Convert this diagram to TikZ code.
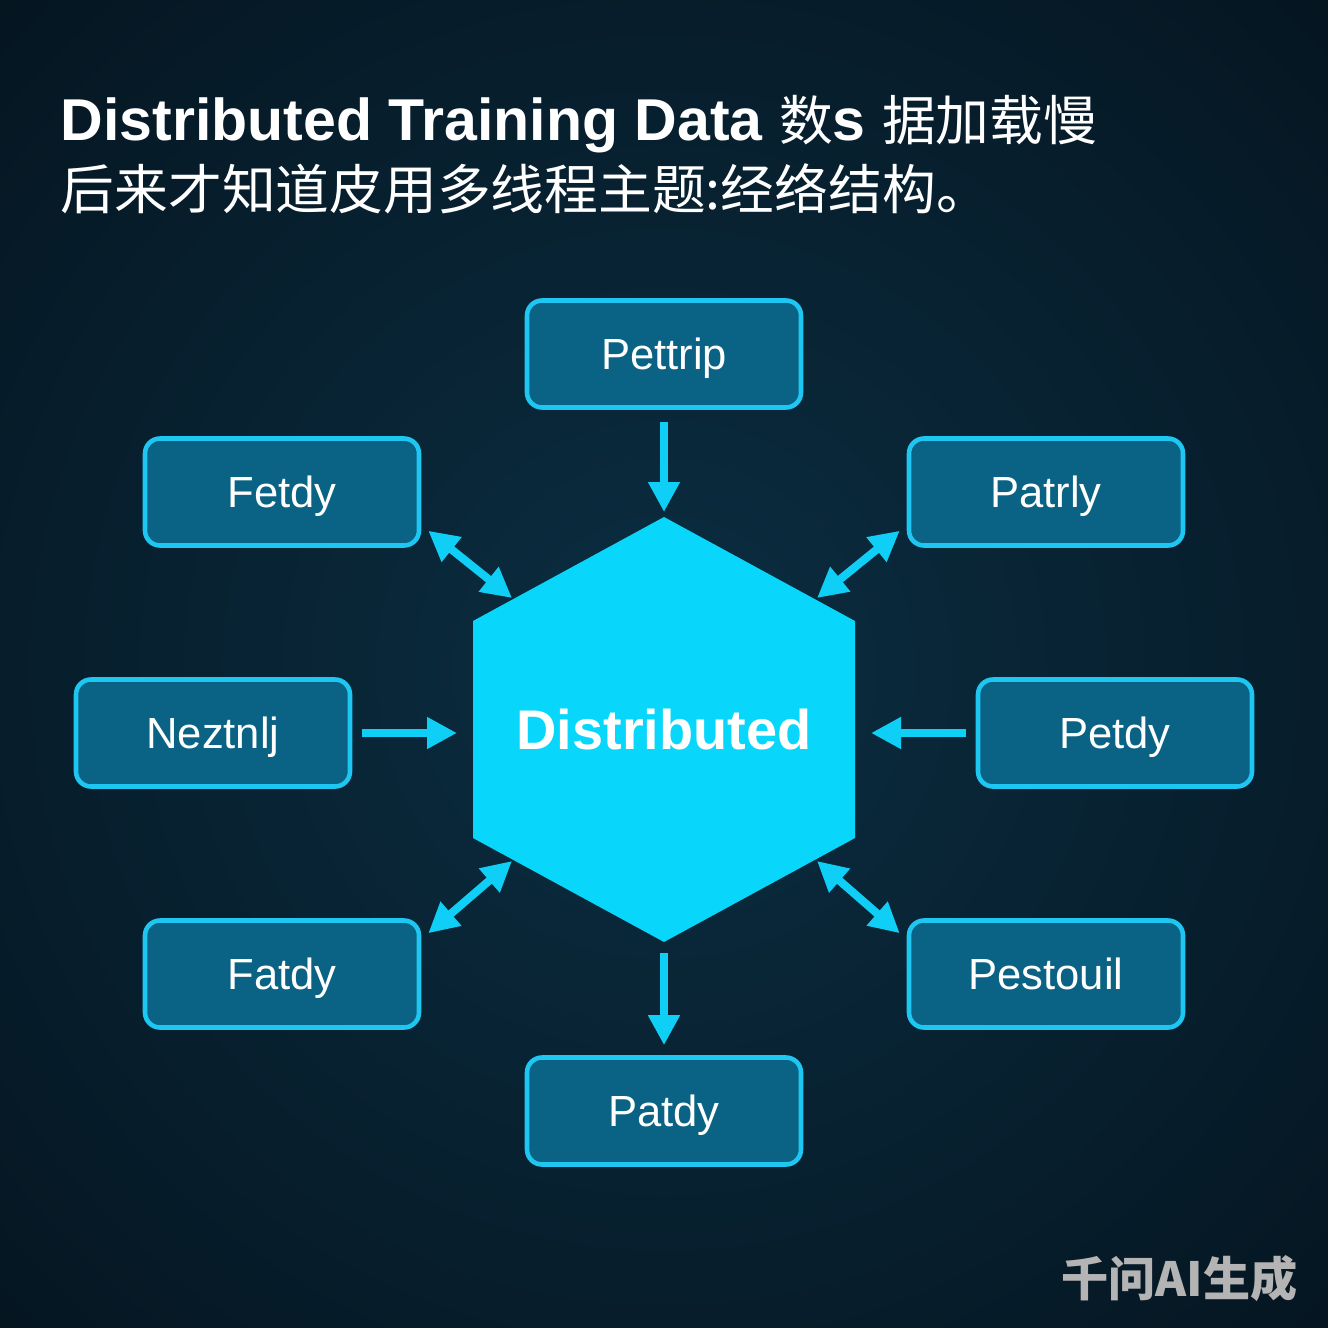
\documentclass[tikz,border=0pt]{standalone}
\usepackage{fontspec}
\setmainfont{Liberation Sans}
\newfontfamily\cjk{Noto Sans CJK SC}
\usetikzlibrary{arrows.meta,calc}
\definecolor{bgout}{HTML}{01070D}
\definecolor{bgin}{HTML}{0B2E42}
\definecolor{boxfill}{HTML}{0A6384}
\definecolor{boxline}{HTML}{1EC6F2}
\definecolor{hexfill}{HTML}{08D6FB}
\definecolor{flowcol}{HTML}{10CFF6}
\definecolor{markgray}{HTML}{B4B4B4}
\tikzset{
    boxN/.style={
        draw=boxline, line width=1.3pt, fill=boxfill,
        rounded corners=0.15cm, minimum width=2.74cm, minimum height=1.07cm,
        text height=0.31cm, text depth=0pt,
        text=white, font=\fontsize{12.4}{14}\selectfont
    },
    flowA/.style={
        draw=flowcol, line width=2.3pt,
        -{Triangle[length=0.3cm,width=0.3cm]}
    },
    flowB/.style={
        draw=flowcol, line width=2.3pt,
        {Triangle[length=0.3cm,width=0.3cm]}-{Triangle[length=0.3cm,width=0.3cm]}
    }
}
\newcommand{\cjkT}{\cjk\mdseries\fontsize{15.3}{18}\selectfont}

\begin{document}
\begin{tikzpicture}
    \def \W {13.28}
    \useasboundingbox (0,0) rectangle (\W,-\W);
    % background with glow
    \fill[bgout] (0,0) rectangle (\W,-\W);
    \begin{scope}
    \clip (0,0) rectangle (\W,-\W);
    \fill[inner color=bgin, outer color=bgout] (6.64,-6.7) circle (15);
    \end{scope}
    % title
    \node[anchor=base west, inner sep=0, text=white, font=\fontsize{16.8}{20}\selectfont\bfseries] (title1) at (0.60,-1.41)
        {Distributed Training Data {\cjkT 数}s {\cjkT 据加载慢}};
    \node[anchor=base west, inner sep=0, text=white, font=\cjkT] (title2) at (0.60,-2.10)
        {后来才知道皮用多线程主题:经络结构。};
    % hexagon
    \coordinate (h1) at (6.64,-5.17);
    \coordinate (h2) at (8.55,-6.21);
    \coordinate (h3) at (8.55,-8.38);
    \coordinate (h4) at (6.64,-9.42);
    \coordinate (h5) at (4.73,-8.38);
    \coordinate (h6) at (4.73,-6.21);
    \fill[hexfill] (h1) -- (h2) -- (h3) -- (h4) -- (h5) -- (h6) -- cycle;
    \node[text=white, font=\fontsize{15.9}{18}\selectfont\bfseries] (hub) at (6.64,-7.30) {Distributed};
    \coordinate (hW) at (4.73,-7.33);
    \coordinate (hE) at (8.55,-7.33);
    \coordinate (eNW) at (5.12,-5.98);
    \coordinate (eNE) at (8.17,-5.98);
    \coordinate (eSW) at (5.12,-8.61);
    \coordinate (eSE) at (8.17,-8.61);
    % boxes
    \node[boxN] (pettrip) at (6.64,-3.54) {Pettrip};
    \node[boxN] (fetdy) at (2.82,-4.92) {Fetdy};
    \node[boxN] (patrly) at (10.46,-4.92) {Patrly};
    \node[boxN] (neztnlj) at (2.13,-7.33) {Neztnlj};
    \node[boxN] (petdy) at (11.15,-7.33) {Petdy};
    \node[boxN] (fatdy) at (2.82,-9.74) {Fatdy};
    \node[boxN] (pestouil) at (10.46,-9.74) {Pestouil};
    \node[boxN] (patdy) at (6.64,-11.11) {Patdy};
    % arrows
    \draw[flowA, shorten <=0.12cm, shorten >=0.05cm] (pettrip.south) -- (h1);
    \draw[flowA, shorten <=0.11cm, shorten >=0.10cm] (h4) -- (patdy.north);
    \draw[flowA, shorten <=0.10cm, shorten >=0.16cm] (neztnlj.east) -- (hW);
    \draw[flowA, shorten <=0.10cm, shorten >=0.16cm] (petdy.west) -- (hE);
    \draw[flowB] ([shift={(0.07,0.17)}]fetdy.south east) -- (eNW);
    \draw[flowB] ([shift={(-0.07,0.17)}]patrly.south west) -- (eNE);
    \draw[flowB] ([shift={(0.07,-0.15)}]fatdy.north east) -- (eSW);
    \draw[flowB] ([shift={(-0.07,-0.15)}]pestouil.north west) -- (eSE);
    % watermark
    \node[anchor=base east, inner sep=0, text=markgray, font=\cjk\fontsize{13.4}{16}\selectfont\bfseries] (mark) at (12.98,-12.96) {千问AI生成};
\end{tikzpicture}
\end{document}
